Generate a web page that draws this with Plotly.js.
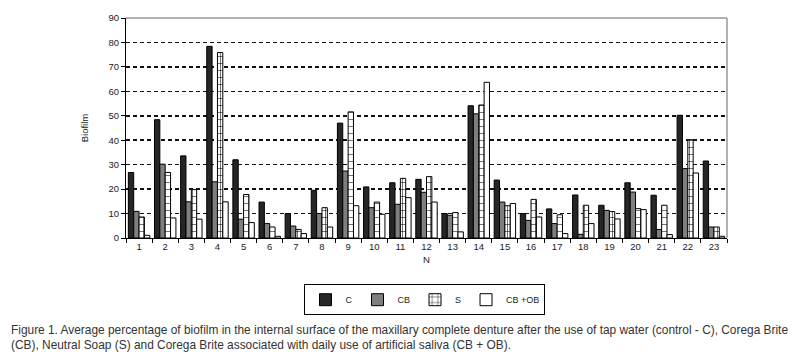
<!DOCTYPE html>
<html>
<head>
<meta charset="utf-8">
<script src="https://cdn.plot.ly/plotly-3.0.1.min.js"></script>
<style>html,body{margin:0;padding:0;background:#fff;}#chart{width:800px;height:356px;}</style>
</head>
<body>
<div id="chart"></div>
<script>
const categories = ["1","2","3","4","5","6","7","8","9","10","11","12","13","14","15","16","17","18","19","20","21","22","23"];
const seriesNames = ["C", "CB", "S", "CB +OB"];
const valuesC    = [26.8, 48.4, 33.6, 78.4, 32.0, 14.7, 10.0, 19.5, 47.0, 20.9, 22.6, 24.0, 10.0, 54.1, 23.7, 10.0, 11.9, 17.6, 13.4, 22.6, 17.5, 50.2, 31.5];
const valuesCB   = [10.9, 30.2, 14.8, 23.0, 7.7, 5.9, 4.9, 10.0, 27.4, 12.4, 13.8, 18.7, 9.3, 50.8, 14.7, 7.2, 5.9, 1.5, 11.3, 18.8, 3.5, 28.4, 4.5];
const valuesS    = [8.6, 26.8, 19.8, 75.9, 17.8, 4.5, 3.5, 12.4, 51.6, 14.7, 24.4, 25.1, 10.4, 54.4, 13.2, 15.8, 9.5, 13.4, 10.8, 12.0, 13.4, 40.2, 4.5];
const valuesCBOB = [1.1, 8.2, 7.7, 14.8, 6.3, 0.7, 1.8, 4.5, 13.2, 9.7, 16.5, 14.7, 2.5, 63.7, 14.1, 8.6, 1.8, 5.9, 7.8, 11.6, 1.4, 26.6, 0.7];
const yTicks = [0,10,20,30,40,50,60,70,80,90];
const captionLine1 = "Figure 1. Average percentage of biofilm in the internal surface of the maxillary complete denture after the use of tap water (control - C), Corega Brite";
const captionLine2 = "(CB), Neutral Soap (S) and Corega Brite associated with daily use of artificial saliva (CB + OB).";

const lineStyle = {color: "#000", width: 1};
const traces = [
  {type: "bar", name: seriesNames[0], x: categories, y: valuesC,
   marker: {color: "#262626", line: lineStyle}},
  {type: "bar", name: seriesNames[1], x: categories, y: valuesCB,
   marker: {color: "#7f7f7f", line: lineStyle}},
  {type: "bar", name: seriesNames[2], x: categories, y: valuesS,
   marker: {color: "#ffffff", line: lineStyle,
            pattern: {shape: "+", fgcolor: "#000", bgcolor: "#ffffff", size: 7, solidity: 0.15}}},
  {type: "bar", name: seriesNames[3], x: categories, y: valuesCBOB,
   marker: {color: "#ffffff", line: lineStyle}}
];

const font = "Liberation Sans, Arial, sans-serif";
const capFont = {family: "Liberation Sans, Arial, sans-serif", size: 11.9, color: "#333"};
const layout = {
  width: 800, height: 356,
  margin: {l: 126, r: 73, t: 18, b: 118, pad: 0},
  paper_bgcolor: "#fff", plot_bgcolor: "#fff",
  barmode: "group", bargap: 0.18, bargroupgap: 0,
  font: {family: font, size: 9, color: "#222"},
  showlegend: true,
  legend: {orientation: "h", x: 0.4975, xanchor: "center", y: -0.21, yanchor: "top",
           bordercolor: "#000", borderwidth: 1, font: {size: 9, color: "#222"},
           itemwidth: 30, tracegroupgap: 0},
  xaxis: {type: "category", showline: true, linecolor: "#000", linewidth: 1,
          ticks: "outside", ticklen: 4, tickcolor: "#000", tickson: "boundaries",
          showgrid: false, tickfont: {size: 9.5, color: "#222"},
          title: {text: "N", font: {size: 9.5, color: "#222"}, standoff: 4}},
  yaxis: {range: [0, 90], tickvals: yTicks, showline: true, linecolor: "#000", linewidth: 1,
          ticks: "outside", ticklen: 4, tickcolor: "#000", zeroline: false,
          showgrid: true, gridcolor: "#111", gridwidth: 1.5, griddash: "4px,3px",
          tickfont: {size: 9.5, color: "#222"},
          title: {text: "Biofilm", font: {size: 9.5, color: "#222"}, standoff: 18}},
  shapes: [
    {type: "line", xref: "paper", yref: "paper", x0: 0, x1: 1, y0: 1, y1: 1,
     line: {color: "#999", width: 1.5}, layer: "above"},
    {type: "line", xref: "paper", yref: "paper", x0: 1, x1: 1, y0: 0, y1: 1,
     line: {color: "#999", width: 1.5}, layer: "above"}
  ],
  annotations: [
    {xref: "paper", yref: "paper", x: -0.195, y: -0.418, xanchor: "left", yanchor: "middle",
     showarrow: false, align: "left", text: captionLine1, font: capFont},
    {xref: "paper", yref: "paper", x: -0.195, y: -0.488, xanchor: "left", yanchor: "middle",
     showarrow: false, align: "left", text: captionLine2, font: capFont}
  ]
};

Plotly.newPlot("chart", traces, layout, {displayModeBar: false, staticPlot: true});
</script>
</body>
</html>
